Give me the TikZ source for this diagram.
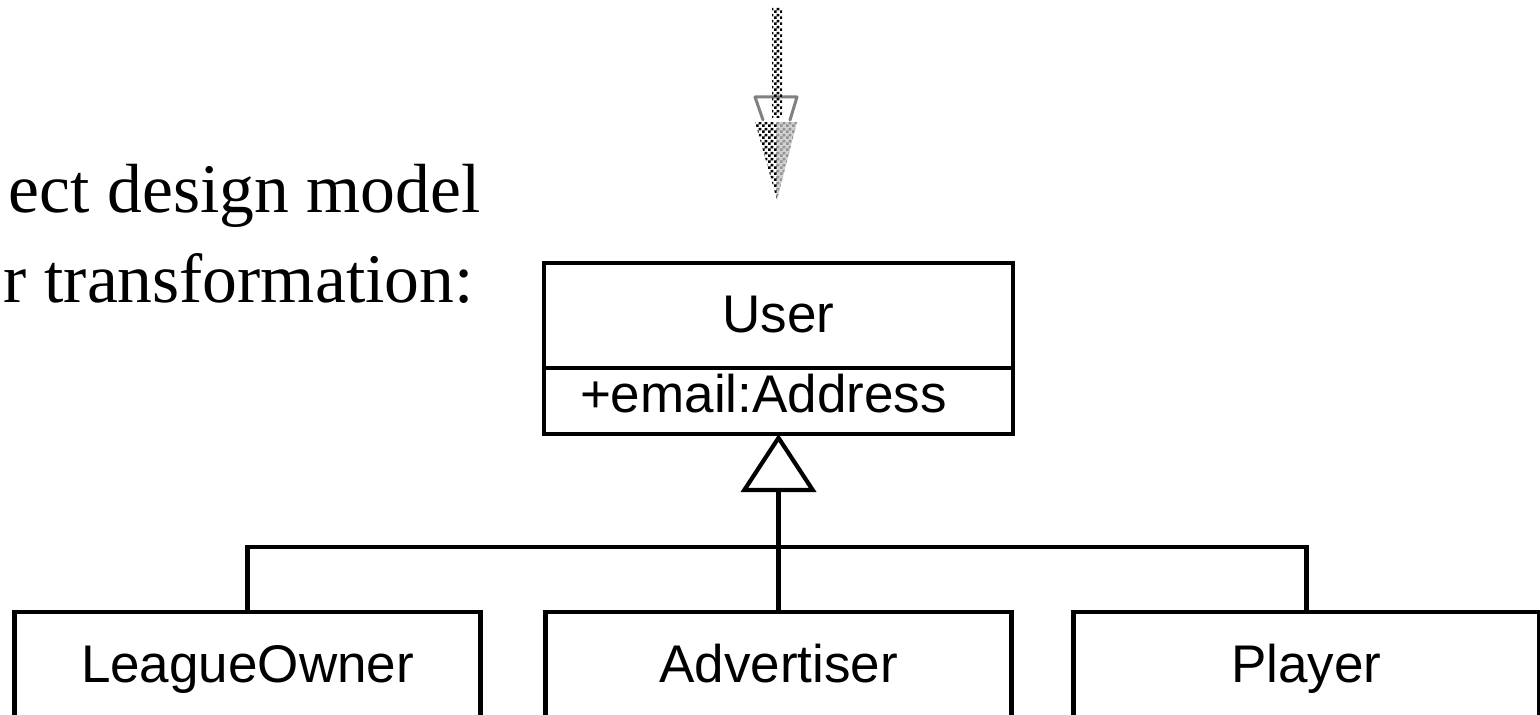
\documentclass[tikz,border=0pt]{standalone}
\usepackage{fontspec}
\setmainfont{Liberation Serif}
\newfontfamily\umlfont{Liberation Sans}
\usetikzlibrary{arrows.meta,positioning,patterns}

\pgfdeclarepatternformonly{fine checker}{\pgfpointorigin}{\pgfqpoint{3pt}{3pt}}{\pgfqpoint{3pt}{3pt}}{%
  \pgfpathrectangle{\pgfpointorigin}{\pgfqpoint{1.5pt}{1.5pt}}%
  \pgfpathrectangle{\pgfqpoint{1.5pt}{1.5pt}}{\pgfqpoint{1.5pt}{1.5pt}}%
  \pgfusepath{fill}}

\tikzset{
  slidetext/.style={inner sep=0pt, font=\fontsize{34.8pt}{45pt}\selectfont},
  classbox/.style={draw, line width=2.1pt, outer sep=0pt, minimum width=233pt,
    text height=19pt, font=\umlfont\fontsize{26.5pt}{30pt}\selectfont},
  classname/.style={classbox, minimum width=234.5pt, inner ysep=16pt, text depth=1.5pt},
  classattr/.style={classbox, text width=198.5pt, align=left, inner xsep=18pt,
    inner ysep=3.5pt, text depth=7pt},
  subclass/.style={classbox, inner ysep=16pt, text depth=40pt},
  link/.style={line width=2.1pt},
  generalization/.style={link, -{Triangle[open, length=29pt, width=37.5pt]}}
}

\begin{document}
\begin{tikzpicture}[x=0.5pt,y=-0.5pt]
    \useasboundingbox (0,0) rectangle (1540,715);
    \clip (0,0) rectangle (1540,715);
    \node[slidetext, anchor=base east] (line1) at (481,213) {ect design model};
    \node[slidetext, anchor=base east] (line2) at (474,303) {r transformation:};
    % 顶部的箭头
    \draw[gray, line width=1.5pt, line join=round, line cap=round]
        (763,120) -- (755,97) -- (797,97) -- (790,120);
    \fill[pattern=fine checker] (772,8) rectangle (782,118);
    \fill[pattern=fine checker] (755,122) -- (777,122) -- (777,200) -- cycle;
    \fill[gray!35] (777,122) -- (797,122) -- (777,200) -- cycle;
    \fill[pattern=fine checker, pattern color=gray!85] (777,122) -- (797,122) -- (777,200) -- cycle;
    \node[classname] (user) at (778.5,315.5) {User};
    \node[classattr] (email) [below=0pt of user] {+email:Address};
    \node[subclass] (advertiser) [below=89pt of email] {Advertiser};
    \node[subclass] (leagueowner) [left=32.5pt of advertiser] {LeagueOwner};
    \node[subclass] (player) [right=31pt of advertiser] {Player};
    \draw[generalization] (advertiser) -- (email);
    \draw[link] (leagueowner.north) |- ([yshift=32.5pt]advertiser.north) -| (player.north);
\end{tikzpicture}
\end{document}
